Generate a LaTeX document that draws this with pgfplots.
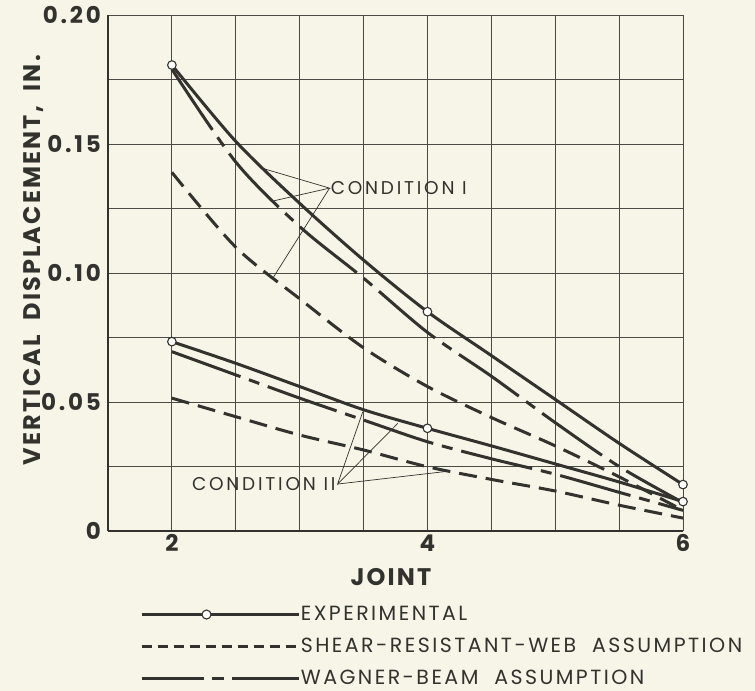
\documentclass[border=0pt]{standalone}
\usepackage{fontspec}
\setmainfont{Poppins}
\usepackage{pgfplots}
\pgfplotsset{compat=1.18}
\definecolor{paper}{RGB}{247,245,232}
\definecolor{ink}{RGB}{50,50,46}
\definecolor{gridc}{RGB}{75,75,70}
\newcommand\tickfont{\fontsize{23bp}{23bp}\selectfont\bfseries\addfontfeature{LetterSpace=12}}
\newcommand\labfont{\fontsize{24bp}{24bp}\selectfont\bfseries\addfontfeature{LetterSpace=9}}
\newcommand\legfont{\fontsize{20.5bp}{20.5bp}\selectfont\addfontfeature{LetterSpace=12}}
\newcommand\annfont{\fontsize{18.5bp}{18.5bp}\selectfont\addfontfeature{LetterSpace=15}}
\begin{document}
\begin{tikzpicture}
\fill[paper] (-108bp,-160bp) rectangle (647bp,531bp);
\path[use as bounding box] (-108bp,-160bp) rectangle (647bp,531bp);
\begin{axis}[
  scale only axis, width=575bp, height=516bp,
  xmin=1.5, xmax=6, ymin=0, ymax=0.2,
  clip=false,
  axis x line*=bottom, axis y line*=left,
  axis line style={ink, line width=2bp},
  xtick={2,4,6}, minor xtick={2.5,3,3.5,4.5,5,5.5},
  ytick={0,0.05,0.1,0.15,0.2}, yticklabels={0,0.05,0.10,0.15,0.20},
  xticklabels={2,4,6},
  minor ytick={0.025,0.075,0.125,0.175},
  grid=both,
  major grid style={gridc, line width=0.8bp},
  minor grid style={gridc, line width=0.8bp},
  major tick length=0pt, minor tick length=0pt,
  tick label style={font=\tickfont, text=ink},
  yticklabel style={inner xsep=7bp},
  /pgf/number format/assume math mode=true,
  xlabel={JOINT},
  xlabel style={at={(axis description cs:0.492,-0.090)}, anchor=center, font=\labfont, text=ink},
  ylabel={VERTICAL\ \ DISPLACEMENT,\ \ IN.},
  ylabel style={at={(axis description cs:-0.1304,0.525)}, anchor=center, font=\labfont, text=ink},
  legend style={at={(axis description cs:0.0557,-0.146)}, anchor=north west,
    draw=none, fill=none, inner sep=0pt, row sep=16bp, column sep=1bp,
    font=\legfont, text=ink,
    nodes={inner sep=0pt, text height=14bp, text depth=2bp}},
  legend cell align=left,
]
\addlegendimage{legend image code/.code={\draw[ink,line width=2.6bp] (0bp,0bp)--(157bp,0bp); \draw[ink,line width=1.1bp,fill=white] (65bp,0bp) circle (4.5bp);}}
\addlegendentry{EXPERIMENTAL}
\addlegendimage{legend image code/.code={\draw[ink,line width=2.6bp,dash pattern=on 10bp off 6bp] (0bp,0bp)--(157bp,0bp);}}
\addlegendentry{SHEAR-RESISTANT-WEB\ \ ASSUMPTION}
\addlegendimage{legend image code/.code={\draw[ink,line width=2.6bp,dash pattern=on 62bp off 8bp on 12bp off 8bp on 70bp] (0bp,0bp)--(157bp,0bp);}}
\addlegendentry{WAGNER-BEAM\ \ ASSUMPTION}

% Condition I
\addplot[forget plot, ink, line width=3bp, smooth] coordinates {
(2,0.1806) (2.5,0.151) (3,0.127) (3.5,0.105) (4,0.085) (4.5,0.068) (5,0.051) (5.5,0.034) (6,0.018)};
\addplot[forget plot, ink, line width=3bp, smooth, dash pattern=on 73bp off 9bp on 11bp off 9bp] coordinates {
(2,0.179) (2.5,0.143) (3,0.118) (3.5,0.098) (4,0.077) (4.5,0.060) (5,0.042) (5.5,0.025) (6,0.011)};
\addplot[forget plot, ink, line width=3bp, smooth, dash pattern=on 18bp off 9bp] coordinates {
(2,0.139) (2.5,0.110) (3,0.090) (3.5,0.071) (4,0.056) (4.5,0.044) (5,0.033) (5.5,0.021) (6,0.008)};
% Condition II
\addplot[forget plot, ink, line width=3bp, smooth] coordinates {
(2,0.0734) (2.5,0.065) (3,0.056) (3.5,0.047) (4,0.0398) (4.5,0.033) (5,0.026) (5.5,0.019) (6,0.0114)};
\addplot[forget plot, ink, line width=3bp, smooth, dash pattern=on 73bp off 9bp on 11bp off 9bp] coordinates {
(2,0.0695) (2.5,0.0605) (3,0.0515) (3.5,0.043) (4,0.0346) (4.5,0.028) (5,0.022) (5.5,0.015) (6,0.008)};
\addplot[forget plot, ink, line width=3bp, smooth, dash pattern=on 18bp off 9bp] coordinates {
(2,0.0515) (2.5,0.0443) (3,0.0372) (3.5,0.0314) (4,0.0249) (4.5,0.020) (5,0.0155) (5.5,0.010) (6,0.005)};
% experimental points
\addplot[forget plot, only marks, mark=*, mark size=4.3bp, mark options={fill=white, draw=ink, line width=1.1bp}] coordinates {
(2,0.1806) (4,0.085) (6,0.018) (2,0.0734) (4,0.0398) (6,0.0114)};

% annotations
\draw[ink, line width=0.7bp] (axis cs:2.70,0.1407) -- (axis cs:3.234,0.1329) -- (axis cs:2.80,0.128);
\draw[ink, line width=0.7bp] (axis cs:3.234,0.1329) -- (axis cs:2.79,0.098);
\node[anchor=west, inner sep=1bp, font=\annfont, text=ink] at (axis cs:3.234,0.1329) {CONDITION I};
\draw[ink, line width=0.7bp] (axis cs:3.494,0.0462) -- (axis cs:3.297,0.0182) -- (axis cs:3.768,0.0417);
\draw[ink, line width=0.7bp] (axis cs:3.297,0.0182) -- (axis cs:4.133,0.023);
\node[anchor=east, inner sep=2bp, font=\annfont, text=ink] at (axis cs:3.297,0.0182) {CONDITION II};
\end{axis}
\end{tikzpicture}
\end{document}
